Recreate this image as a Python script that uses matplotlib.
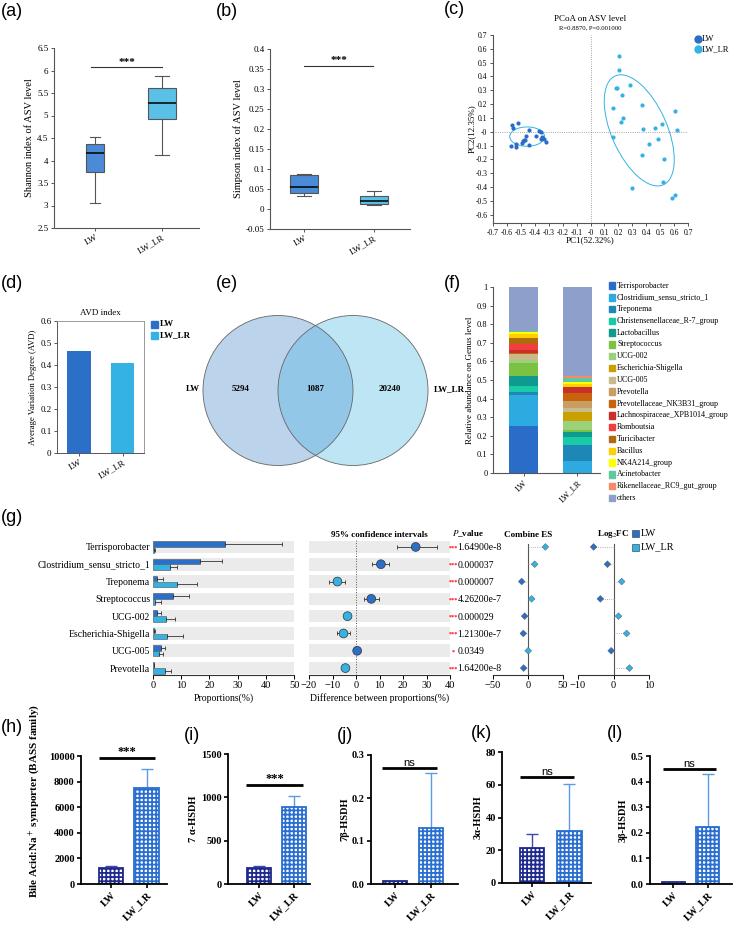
import matplotlib
matplotlib.use("Agg")
import matplotlib.pyplot as plt
import numpy as np
from matplotlib.patches import Ellipse, Circle, Rectangle
from matplotlib.lines import Line2D
import matplotlib.transforms as mtransforms

plt.rcParams['font.family'] = ['Liberation Serif', 'DejaVu Serif']
plt.rcParams['mathtext.fontset'] = 'stix'
plt.rcParams['hatch.linewidth'] = 1.3

W, H = 734, 926
fig = plt.figure(figsize=(W / 100, H / 100), dpi=100)

# ---------------- data ----------------
groups = ["LW", "LW_LR"]
# (a) Shannon box stats: whislo, q1, med, q3, whishi
shannon_lw = [3.05, 3.75, 4.17, 4.37, 4.53]
shannon_lr = [4.12, 4.93, 5.27, 5.62, 5.88]
# (b) Simpson box stats
simpson_lw = [0.033, 0.041, 0.055, 0.084, 0.088]
simpson_lr = [0.009, 0.013, 0.020, 0.032, 0.045]
# (c) PCoA
pcoa_lw_x = [-0.561, -0.556, -0.517, -0.568, -0.532, -0.537, -0.445, -0.462, -0.484, -0.493,
             -0.477, -0.438, -0.393, -0.371, -0.352, -0.347, -0.337, -0.357, -0.318, -0.470]
pcoa_lw_y = [0.049, 0.030, 0.061, -0.102, -0.088, -0.107, 0.013, -0.030, -0.069, -0.078,
             -0.059, -0.093, -0.028, 0.006, -0.002, -0.035, -0.052, -0.054, -0.071, -0.062]
pcoa_lr_x = [0.208, 0.205, 0.181, 0.193, 0.285, 0.225, 0.162, 0.369, 0.232, 0.220, 0.609, 0.621,
             0.378, 0.465, 0.515, 0.165, 0.486, 0.419, 0.369, 0.527, 0.520, 0.301, 0.609, 0.585]
pcoa_lr_y = [0.546, 0.445, 0.316, 0.313, 0.335, 0.263, 0.171, 0.191, 0.097, 0.071, 0.150, 0.010,
             0.018, 0.027, 0.058, -0.040, -0.054, -0.086, -0.165, -0.199, -0.362, -0.408, -0.458, -0.482]
# (d) AVD
avd_values = [0.465, 0.41]
# (e) Venn
venn_counts = [5294, 1087, 20240]
# (f) genus composition
genera = ["Terrisporobacter", "Clostridium_sensu_stricto_1", "Treponema",
          "Christensenellaceae_R-7_group", "Lactobacillus", "Streptococcus", "UCG-002",
          "Escherichia-Shigella", "UCG-005", "Prevotella", "Prevotellaceae_NK3B31_group",
          "Lachnospiraceae_XPB1014_group", "Romboutsia", "Turicibacter", "Bacillus",
          "NK4A214_group", "Acinetobacter", "Rikenellaceae_RC9_gut_group", "others"]
genus_lw = [0.254, 0.166, 0.014, 0.034, 0.053, 0.072, 0.012, 0.003, 0.031, 0.003, 0.003,
            0.015, 0.035, 0.033, 0.022, 0.010, 0.001, 0.001, 0.238]
genus_lr = [0.002, 0.064, 0.082, 0.048, 0.027, 0.006, 0.048, 0.050, 0.021, 0.041, 0.043,
            0.029, 0.002, 0.002, 0.014, 0.012, 0.018, 0.012, 0.479]
genus_colors = ["#2A6DC8", "#2DAAE0", "#1F86B8", "#18CBA6", "#0E9A8F", "#7CC242", "#9AD17A",
                "#C9A000", "#C9BA8C", "#C89E62", "#C8620F", "#C8302A", "#F43E3E", "#B06A10",
                "#FFD000", "#FFFF00", "#5EC8A0", "#F8896A", "#8F9FCC"]
# (g) differential genera
diff_genera = ["Terrisporobacter", "Clostridium_sensu_stricto_1", "Treponema", "Streptococcus",
               "UCG-002", "Escherichia-Shigella", "UCG-005", "Prevotella"]
prop_lw = [25.4, 16.5, 1.5, 7.0, 1.5, 0.5, 3.0, 0.2]
prop_lw_sd = [20.5, 8.0, 2.0, 5.8, 1.3, 0.2, 1.3, 0.1]
prop_lr = [0.3, 5.9, 8.6, 0.8, 4.6, 5.1, 2.2, 4.4]
prop_lr_sd = [0.4, 2.7, 7.0, 2.0, 3.1, 5.7, 1.3, 1.9]
diff_mean = [25.4, 10.6, -7.9, 6.5, -3.6, -5.3, 0.5, -4.5]
diff_low = [17.5, 6.7, -11.5, 3.5, -4.4, -8.0, -0.3, -5.4]
diff_high = [34.6, 14.1, -4.6, 9.6, -2.8, -2.6, 1.3, -3.6]
p_values = ["1.64900e-8", "0.000037", "0.000007", "4.26200e-7", "0.000029", "1.21300e-7",
            "0.0349", "1.64200e-8"]
p_stars = ["***", "***", "***", "***", "***", "***", "*", "***"]
combine_es = [24.8, 9.5, -9.0, 5.2, -4.8, -6.7, 0.3, -6.2]
log2fc = [-5.6, -1.7, 2.3, -3.7, 1.4, 3.7, -0.65, 4.5]
# (h)-(l) bars
bass_mean = [1280, 7500]; bass_err = [140, 1450]
a7_mean = [186, 893]; a7_err = [27, 120]
b7_mean = [0.007, 0.131]; b7_err = [0.0, 0.127]
a3_mean = [21.2, 32.0]; a3_err = [8.6, 28.4]
b3_mean = [0.007, 0.222]; b3_err = [0.0, 0.209]

C_LW = "#4A8AD6"
C_LR = "#5BC0E6"
D_LW = "#2B6FC8"
D_LR = "#33B2E3"


def ax_px(x0, y0, x1, y1):
    return fig.add_axes([x0 / W, 1 - y1 / H, (x1 - x0) / W, (y1 - y0) / H])


def fig_text(x, y, s, **kw):
    return fig.text(x / W, 1 - y / H, s, **kw)


def panel_label(x, y, s):
    fig_text(x, y, s, family=['Liberation Sans', 'DejaVu Sans'], fontsize=13,
             va='center', ha='left')


for lab, (x, y) in {"(a)": (1, 12), "(b)": (216, 12), "(c)": (444, 10), "(d)": (1, 283),
                    "(e)": (216, 283), "(f)": (444, 283), "(g)": (1, 517), "(h)": (1, 727),
                    "(i)": (184, 735), "(j)": (337, 735), "(k)": (471, 733), "(l)": (607, 733)}.items():
    panel_label(x, y, lab)


def style_simple(ax, fs=6.5):
    for s in ['top', 'right']:
        ax.spines[s].set_visible(False)
    for s in ['left', 'bottom']:
        ax.spines[s].set_color('#555555')
        ax.spines[s].set_linewidth(0.8)
    ax.tick_params(labelsize=fs, length=2.5, width=0.7, color='#555555', pad=1.5)


def fmt_g(v):
    return ('%g' % round(v, 3))


# ---------------- (a) ----------------
ax = ax_px(54, 48, 199, 228)
stats = []
for st in (shannon_lw, shannon_lr):
    stats.append(dict(whislo=st[0], q1=st[1], med=st[2], q3=st[3], whishi=st[4], fliers=[]))
bp = ax.bxp(stats, positions=[1, 2], widths=[0.27, 0.42], patch_artist=True, showfliers=False,
            medianprops=dict(color='black', lw=1.1),
            whiskerprops=dict(color='#555555', lw=0.8), capprops=dict(color='#555555', lw=0.8),
            boxprops=dict(edgecolor='#555555', lw=0.8))
for p, c in zip(bp['boxes'], [C_LW, C_LR]):
    p.set_facecolor(c)
ax.set_xlim(0.388, 2.552)
ax.set_ylim(2.5, 6.5)
yt = np.arange(2.5, 6.51, 0.5)
ax.set_yticks(yt)
ax.set_yticklabels([fmt_g(v) for v in yt])
ax.set_xticks([1, 2])
ax.set_xticklabels(groups, rotation=30, ha='right', rotation_mode='anchor')
style_simple(ax)
ax.set_ylabel("Shannon index of ASV level", fontsize=7.5, labelpad=2)
ax.plot([0.94, 2.0], [6.07, 6.07], color='#333333', lw=0.8)
ax.text(1.47, 6.08, "***", ha='center', va='bottom', fontsize=8, fontweight='bold')

# ---------------- (b) ----------------
ax = ax_px(270, 49, 410, 229)
stats = []
for st in (simpson_lw, simpson_lr):
    stats.append(dict(whislo=st[0], q1=st[1], med=st[2], q3=st[3], whishi=st[4], fliers=[]))
bp = ax.bxp(stats, positions=[1, 2], widths=[0.41, 0.41], patch_artist=True, showfliers=False,
            medianprops=dict(color='black', lw=1.1),
            whiskerprops=dict(color='#555555', lw=0.8), capprops=dict(color='#555555', lw=0.8),
            boxprops=dict(edgecolor='#555555', lw=0.8))
for p, c in zip(bp['boxes'], [C_LW, C_LR]):
    p.set_facecolor(c)
ax.set_xlim(0.514, 2.514)
ax.set_ylim(-0.05, 0.4)
yt = np.arange(-0.05, 0.401, 0.05)
ax.set_yticks(yt)
ax.set_yticklabels([fmt_g(v) for v in yt])
ax.set_xticks([1, 2])
ax.set_xticklabels(groups, rotation=30, ha='right', rotation_mode='anchor')
style_simple(ax)
ax.set_ylabel("Simpson index of ASV level", fontsize=7.5, labelpad=2)
ax.plot([1.0, 1.99], [0.358, 0.358], color='#333333', lw=0.8)
ax.text(1.5, 0.36, "***", ha='center', va='bottom', fontsize=8, fontweight='bold')

# ---------------- (c) ----------------
ax = ax_px(493, 35, 688, 223)
ax.scatter(pcoa_lw_x, pcoa_lw_y, s=9, color='#2A6DC8', zorder=3, linewidths=0)
ax.scatter(pcoa_lr_x, pcoa_lr_y, s=9, color='#33B2E3', zorder=3, linewidths=0)
ax.add_patch(Ellipse((-0.455, -0.035), 0.25, 0.14, angle=0, fill=False, ec='#33B2E3', lw=0.7))
ax.add_patch(Ellipse((0.35, 0.01), 0.40, 0.86, angle=23.6, fill=False, ec='#33B2E3', lw=0.7))
ax.axvline(0, color='#888888', lw=0.6, ls=':')
ax.axhline(0, color='#888888', lw=0.6, ls=':')
ax.set_xlim(-0.7, 0.7)
ax.set_ylim(-0.66, 0.7)
xt = np.round(np.arange(-0.7, 0.701, 0.1), 1)
ax.set_xticks(xt)
ax.set_xticklabels([fmt_g(v) for v in xt])
yt = np.round(np.arange(-0.6, 0.701, 0.1), 1)
ax.set_yticks(yt)
ax.set_yticklabels([fmt_g(v) for v in yt])
style_simple(ax, fs=5.5)
ax.set_xlabel("PC1(52.32%)", fontsize=6.5, labelpad=0)
ax.set_ylabel("PC2(12.35%)", fontsize=6.5, labelpad=0)
fig_text(590, 19, "PCoA on ASV level", ha='center', va='center', fontsize=6.5)
fig_text(590, 28, "R=0.8870, P=0.001000", ha='center', va='center', fontsize=4.8)
for i, (g, c) in enumerate(zip(groups, ['#2A6DC8', '#33B2E3'])):
    fig.add_artist(Line2D([698 / W], [1 - (39 + 10 * i) / H], marker='o', ms=5, color=c, ls='none'))
    fig_text(702, 39 + 10 * i, g, fontsize=6, va='center')

# ---------------- (d) ----------------
ax = ax_px(57, 321, 144, 453)
ax.bar([0, 1], avd_values, width=0.55, color=[D_LW, D_LR])
ax.set_xlim(-0.506, 1.494)
ax.set_ylim(0, 0.6)
yt = np.round(np.arange(0, 0.601, 0.1), 1)
ax.set_yticks(yt)
ax.set_yticklabels([fmt_g(v) for v in yt])
ax.set_xticks([0, 1])
ax.set_xticklabels(groups, rotation=30, ha='right', rotation_mode='anchor')
ax.tick_params(labelsize=6.5, length=2.5, width=0.7, color='#555555', pad=1.5)
for s in ax.spines.values():
    s.set_color('#999999'); s.set_linewidth(0.7)
ax.spines['left'].set_color('#555555')
ax.spines['bottom'].set_color('#555555')
ax.set_title("AVD index", fontsize=6.5, pad=4)
ax.set_ylabel("Average Variation Degree (AVD)", fontsize=6.2, labelpad=2)
for i, (g, c) in enumerate(zip(groups, [D_LW, D_LR])):
    fig.add_artist(Rectangle((151 / W, 1 - (324 + 11 * i + 3.5) / H), 7 / W, 7 / H, color=c))
    fig_text(160, 324 + 11 * i, g, fontsize=6.5, va='center', fontweight='bold')

# ---------------- (e) Venn ----------------
ax = ax_px(180, 305, 470, 475)
ax.set_xlim(180, 470)
ax.set_ylim(475, 305)
ax.axis('off')
cl = Circle((278, 390.5), 75, fc='#BCD3EC', ec='none')
cr = Circle((353, 390.5), 75, fc='#BEE5F4', ec='none')
ax.add_patch(cl); ax.add_patch(cr)
ci = Circle((278, 390.5), 75, fc='#93C7E8', ec='none')
ax.add_patch(ci)
ci.set_clip_path(cr)
ax.add_patch(Circle((278, 390.5), 75, fill=False, ec='#666666', lw=0.6))
ax.add_patch(Circle((353, 390.5), 75, fill=False, ec='#666666', lw=0.6))
for xx, v in zip([241, 315.5, 390], venn_counts):
    ax.text(xx, 389, str(v), ha='center', va='center', fontsize=6.5, fontweight='bold')
ax.text(193, 389, "LW", ha='center', va='center', fontsize=6.5, fontweight='bold')
ax.text(449, 389, "LW_LR", ha='center', va='center', fontsize=6.5, fontweight='bold')

# ---------------- (f) ----------------
ax = ax_px(493, 287, 600, 473)
bottom = np.zeros(2)
for name, vlw, vlr, c in zip(genera, genus_lw, genus_lr, genus_colors):
    ax.bar([0, 1], [vlw, vlr], bottom=bottom, width=0.54, color=c, linewidth=0)
    bottom += np.array([vlw, vlr])
ax.set_xlim(-0.565, 1.417)
ax.set_ylim(0, 1)
yt = np.round(np.arange(0, 1.001, 0.1), 1)
ax.set_yticks(yt)
ax.set_yticklabels([fmt_g(v) for v in yt])
ax.set_xticks([0, 1])
ax.set_xticklabels(groups, rotation=45, ha='right', rotation_mode='anchor')
style_simple(ax, fs=6)
ax.set_ylabel("Relative abundance on Genus level", fontsize=6.5, labelpad=2)
for i, (name, c) in enumerate(zip(genera, genus_colors)):
    yy = 285.5 + i * 11.8
    fig.add_artist(Rectangle((609 / W, 1 - (yy + 3.2) / H), 6.4 / W, 6.4 / H, color=c))
    fig_text(617, yy, name, fontsize=5.8, va='center')

# ---------------- (g) ----------------
rows = np.arange(len(diff_genera))
YL = (7.40, -0.40)
BAND = '#EBEBEB'


def g_axes(x0, x1):
    a = ax_px(x0, 540, x1, 675)
    a.set_ylim(*YL)
    a.patch.set_visible(False)
    for s in ['top', 'right', 'left']:
        a.spines[s].set_visible(False)
    a.spines['bottom'].set_color('#333333')
    a.spines['bottom'].set_linewidth(0.8)
    a.tick_params(axis='x', labelsize=7.5, length=3, width=0.7, pad=1.5)
    a.tick_params(axis='y', length=0)
    return a


# proportions
ax1 = g_axes(153, 294)
ax1.set_xlim(0, 50)
ax1.barh(rows, 50, height=0.73, color=BAND, zorder=0)
ax1.barh(rows - 0.17, prop_lw, height=0.32, color=D_LW, edgecolor='#555555', lw=0.4, zorder=2)
ax1.barh(rows + 0.17, prop_lr, height=0.32, color=D_LR, edgecolor='#555555', lw=0.4, zorder=2)
ax1.errorbar(prop_lw, rows - 0.17, xerr=[np.zeros(8), prop_lw_sd], fmt='none', ecolor='#333333',
             elinewidth=0.6, capsize=1.5, capthick=0.6, zorder=3)
ax1.errorbar(prop_lr, rows + 0.17, xerr=[np.zeros(8), prop_lr_sd], fmt='none', ecolor='#333333',
             elinewidth=0.6, capsize=1.5, capthick=0.6, zorder=3)
ax1.set_yticks(rows)
ax1.set_yticklabels(diff_genera, fontsize=7)
ax1.tick_params(axis='y', pad=2)
ax1.set_xticks(np.arange(0, 51, 10))
ax1.set_xlabel("Proportions(%)", fontsize=7, labelpad=2)

# CI
ax2 = g_axes(309, 450)
ax2.set_xlim(-20, 40)
ax2.barh(rows, 60, left=-20, height=0.73, color=BAND, zorder=0)
ax2.axvline(0, color='#555555', lw=0.7, ls=':', zorder=1)
dm = np.array(diff_mean)
cols = [D_LW if v > 0 else D_LR for v in dm]
ax2.errorbar(dm, rows, xerr=[dm - np.array(diff_low), np.array(diff_high) - dm], fmt='none',
             ecolor='#333333', elinewidth=0.6, capsize=1.5, capthick=0.6, zorder=2)
ax2.scatter(dm, rows, s=40, c=cols, edgecolors='#333333', linewidths=0.5, zorder=3)
ax2.set_yticks([])
ax2.set_xticks(np.arange(-20, 41, 10))
ax2.set_xlabel("Difference between proportions(%)", fontsize=7, labelpad=2)
ax2.set_title("95% confidence intervals", fontsize=6.5, pad=2, fontweight='bold')
tr = mtransforms.blended_transform_factory(ax2.transAxes, ax2.transData)
for i, (p, st) in enumerate(zip(p_values, p_stars)):
    ax2.text(1.052, i + 0.05, p, transform=tr, fontsize=7, va='center', ha='left', zorder=10)
    ax2.text(1.026, i + 0.05, st, transform=tr, fontsize=4.5, va='center', ha='center',
             color='red', fontweight='bold')
ax2.text(1.13, -0.75, "$P$_value", transform=tr, fontsize=6.5, va='center', ha='center',
         fontweight='bold')

# combine ES
ax3 = g_axes(493, 563)
ax3.set_xlim(-50, 50)
ax3.axvline(0, color='#555555', lw=0.8, ymin=0, ymax=0.97)
ce = np.array(combine_es)
for i, v in enumerate(ce):
    ax3.plot([0, v], [i, i], color='#999999', lw=0.6, ls=':')
ax3.scatter(ce, rows, marker='D', s=12, c=[D_LR if v > 0 else D_LW for v in ce],
            edgecolors='#555555', linewidths=0.3, zorder=3)
ax3.set_yticks([])
ax3.set_xticks([-50, 0, 50])
ax3.set_title("Combine ES", fontsize=6.5, pad=2, fontweight='bold')

# log2FC
ax4 = g_axes(578, 649)
ax4.set_xlim(-10, 10)
ax4.axvline(0, color='#555555', lw=0.8, ymin=0, ymax=0.97)
lf = np.array(log2fc)
for i, v in enumerate(lf):
    ax4.plot([0, v], [i, i], color='#999999', lw=0.6, ls=':')
ax4.scatter(lf, rows, marker='D', s=12, c=[D_LR if v > 0 else D_LW for v in lf],
            edgecolors='#555555', linewidths=0.3, zorder=3)
ax4.set_yticks([])
ax4.set_xticks([-10, 0, 10])
ax4.set_title("Log$_2$FC", fontsize=6.5, pad=2, fontweight='bold')

for i, (g, c) in enumerate(zip(groups, [D_LW, D_LR])):
    fig.add_artist(Rectangle((632 / W, 1 - (533 + 14 * i + 3.5) / H), 7 / W, 7 / H, fc=c,
                             ec='#333333', lw=0.4))
    fig_text(641, 533 + 14 * i, g, fontsize=7.5, va='center')

# ---------------- (h)-(l) ----------------
BAR_LW = '#1F2A8C'
BAR_LR = '#2A6FD0'
ERR_LW = '#3A4CB0'
ERR_LR = '#5B9BE0'


def sig_bar(ax, x0, x1, y, label, sans=False):
    ax.plot([x0, x1], [y, y], color='black', lw=2.0, solid_capstyle='butt', clip_on=False)
    if sans:
        ax.text((x0 + x1) / 2, y, label, ha='center', va='bottom', fontsize=8,
                family=['Liberation Sans', 'DejaVu Sans'])
    else:
        ax.text((x0 + x1) / 2, y, label, ha='center', va='bottom', fontsize=9, fontweight='bold')


def gp_bar(rect, means, errs, ylim, yticks, ylabel, xlim, width, ylabfs=7.5):
    ax = ax_px(*rect)
    for i, (m, e, fc, ec) in enumerate(zip(means, errs, [BAR_LW, BAR_LR], [ERR_LW, ERR_LR])):
        ax.bar([i], [m], width=width, color='white', edgecolor=fc, hatch='++++', lw=1.3, zorder=2)
        if e > 0:
            ax.errorbar([i], [m], yerr=[[0], [e]], fmt='none', ecolor=ec, elinewidth=1.0,
                        capsize=4, capthick=1.0, zorder=1)
    ax.set_xlim(*xlim)
    ax.set_ylim(*ylim)
    ax.set_yticks(yticks)
    ax.set_xticks([0, 1])
    ax.set_xticklabels(groups, rotation=45, ha='right', rotation_mode='anchor')
    for s in ['top', 'right']:
        ax.spines[s].set_visible(False)
    for s in ['left', 'bottom']:
        ax.spines[s].set_linewidth(1.3)
    ax.tick_params(labelsize=7.5, length=3, width=1.2, pad=1.5)
    for t in ax.get_xticklabels() + ax.get_yticklabels():
        t.set_fontweight('bold')
    ax.set_ylabel(ylabel, fontsize=ylabfs, fontweight='bold', labelpad=2)
    return ax


ax = gp_bar((81, 756, 167, 884), bass_mean, bass_err, (0, 10000), np.arange(0, 10001, 2000),
            "Bile Acid:Na$^+$ symporter (BASS family)", (-0.845, 1.577), 0.68, ylabfs=8)
ax.yaxis.set_label_coords(-0.45, 0.65)
sig_bar(ax, -0.34, 1.24, 9850, "***")

ax = gp_bar((228, 754, 310, 884), a7_mean, a7_err, (0, 1500), [0, 500, 1000, 1500],
            "7 α-HSDH", (-0.88, 1.45), 0.68)
sig_bar(ax, -0.37, 1.25, 1140, "***")

ax = gp_bar((371, 755, 458, 884), b7_mean, b7_err, (0, 0.3), [0.0, 0.1, 0.2, 0.3],
            "7β-HSDH", (-0.66, 1.73), 0.66)
ax.set_yticklabels(["0.0", "0.1", "0.2", "0.3"])
for t in ax.get_yticklabels():
    t.set_fontweight('bold')
sig_bar(ax, -0.36, 1.16, 0.27, "ns", sans=True)

ax = gp_bar((502, 752, 591, 883), a3_mean, a3_err, (0, 80), [0, 20, 40, 60, 80],
            "3α-HSDH", (-0.82, 1.58), 0.65)
sig_bar(ax, -0.34, 1.12, 64.7, "ns", sans=True)

ax = gp_bar((650, 756, 732, 884), b3_mean, b3_err, (0, 0.5), [0.0, 0.1, 0.2, 0.3, 0.4, 0.5],
            "3β-HSDH", (-0.66, 1.69), 0.66)
ax.set_yticklabels(["0.0", "0.1", "0.2", "0.3", "0.4", "0.5"])
for t in ax.get_yticklabels():
    t.set_fontweight('bold')
sig_bar(ax, -0.29, 1.24, 0.45, "ns", sans=True)

fig.savefig("out.png", dpi=100)
